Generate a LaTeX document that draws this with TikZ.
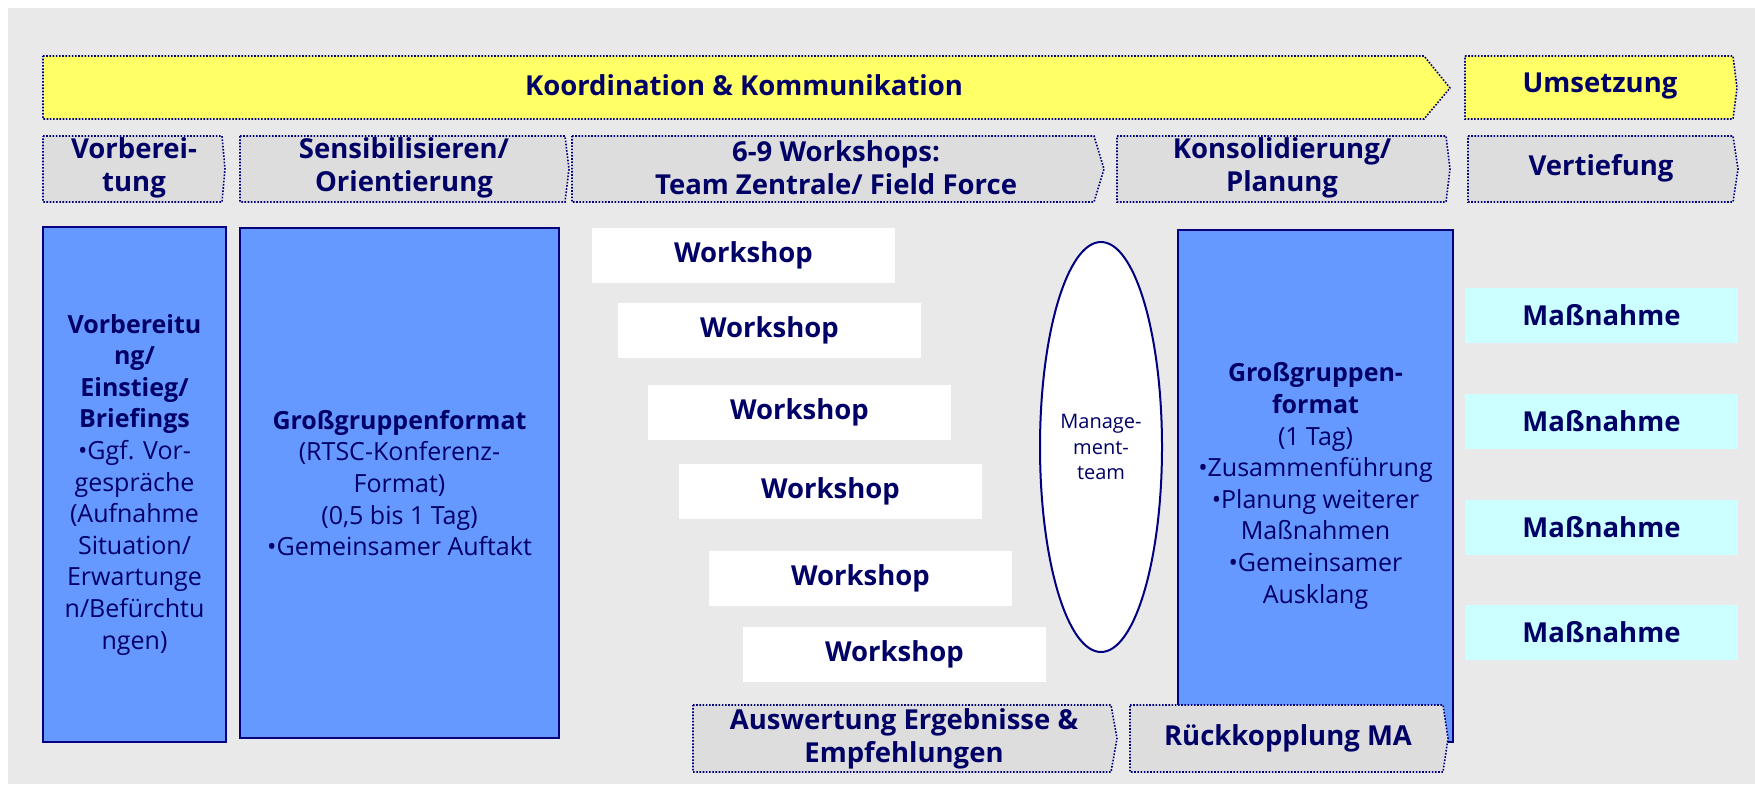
\documentclass[tikz,border=0pt]{standalone}
\usepackage{fontspec}
\setmainfont{Open Sans}
\usetikzlibrary{shapes.geometric}
\definecolor{bggray}{HTML}{E9E9E9}
\definecolor{chevgray}{HTML}{DDDDDD}
\definecolor{yel}{HTML}{FFFF66}
\definecolor{boxblue}{HTML}{6699FF}
\definecolor{lcyan}{HTML}{CCFFFF}
\definecolor{navyline}{HTML}{000080}
\definecolor{txt}{HTML}{000066}
\begin{document}
\begin{tikzpicture}[x=1pt,y=-1pt,
  chev/.style={fill=chevgray, draw=navyline, line width=1.6pt, dash pattern=on 1.6pt off 1.6pt},
  ychev/.style={chev, fill=yel},
  ttl/.style={text=txt, font=\fontsize{27.5}{33}\selectfont\bfseries, align=center, inner sep=0pt},
  bluebox/.style={fill=boxblue, draw=navyline, line width=2pt, text=txt,
     font=\fontsize{25}{31.6}\selectfont, align=center, inner sep=0pt},
  wsbox/.style={fill=white, minimum width=303pt, minimum height=55pt, inner sep=0pt,
     text=txt, font=\fontsize{27.5}{33}\selectfont\bfseries},
  massbox/.style={fill=lcyan, minimum width=273pt, minimum height=55pt, inner sep=0pt,
     text=txt, font=\fontsize{27.5}{33}\selectfont\bfseries},
  mgmt/.style={ellipse, fill=white, draw=navyline, line width=2pt, minimum width=122pt,
     minimum height=410pt, inner sep=0pt, text=txt, align=center,
     font=\fontsize{20}{25.6}\selectfont}
]
\useasboundingbox (0,0) rectangle (1755,784);
\fill[white] (0,0) rectangle (1755,784);
\fill[bggray] (8,8) rectangle (1755,784);

% top row
\path[ychev] (43,56) -- (1424,56) -- (1450,88) -- (1424,119) -- (43,119) -- cycle;
\node[ttl] (koord) at (744,85.5) {Koordination \& Kommunikation};
\path[ychev] (1465,56) -- (1733,56) -- (1737,88) -- (1733,119) -- (1465,119) -- cycle;
\node[ttl] (ums) at (1600,85.5) {Umsetzung};

% second row
\path[chev] (43,136) -- (222,136) -- (225,169) -- (222,202) -- (43,202) -- cycle;
\node[ttl] (vorb) at (134,168) {Vorberei-\\tung};
\path[chev] (240,136) -- (565,136) -- (569,169) -- (565,202) -- (240,202) -- cycle;
\node[ttl] (sens) at (404,168) {Sensibilisieren/\\Orientierung};
\path[chev] (572,136) -- (1094,136) -- (1104,169) -- (1094,202) -- (572,202) -- cycle;
\node[ttl] (wsh) at (836,168) {6-9 Workshops:\\Team Zentrale/ Field Force};
\path[chev] (1117,136) -- (1446,136) -- (1450,169) -- (1446,202) -- (1117,202) -- cycle;
\node[ttl] (kons) at (1282,168) {Konsolidierung/\\Planung};
\path[chev] (1468,136) -- (1733,136) -- (1738,169) -- (1733,202) -- (1468,202) -- cycle;
\node[ttl] (vert) at (1601,168) {Vertiefung};

% blue boxes
\node[bluebox, minimum width=183pt, minimum height=515pt] (prep) at (134.5,484.5)
  {\textbf{Vorbereitu}\\\textbf{ng/}\\\textbf{Einstieg/}\\\textbf{Briefings}\\•Ggf. Vor-\\gespräche\\(Aufnahme\\Situation/\\Erwartunge\\n/Befürchtu\\ngen)};
\node[bluebox, minimum width=319pt, minimum height=510pt] (gg1) at (399.5,483)
  {\textbf{Großgruppenformat}\\(RTSC-Konferenz-\\Format)\\(0,5 bis 1 Tag)\\•Gemeinsamer Auftakt};
\node[bluebox, minimum width=275pt, minimum height=512pt] (gg2) at (1315.5,486)
  {\textbf{Großgruppen-}\\\textbf{format}\\(1 Tag)\\•Zusammenführung\\•Planung weiterer\\Maßnahmen\\•Gemeinsamer\\Ausklang};

% workshops
\node[wsbox] (w1) at (743.5,255.5) {Workshop};
\node[wsbox] (w2) at (769.5,330.5) {Workshop};
\node[wsbox] (w3) at (799.5,412.5) {Workshop};
\node[wsbox] (w4) at (830.5,491.5) {Workshop};
\node[wsbox] (w5) at (860.5,578.5) {Workshop};
\node[wsbox] (w6) at (894.5,654.5) {Workshop};

% management team
\node[mgmt] (mt) at (1101,447) {Manage-\\ment-\\team};

% Massnahmen
\node[massbox] (m1) at (1601.5,315.5) {Maßnahme};
\node[massbox] (m2) at (1601.5,421.5) {Maßnahme};
\node[massbox] (m3) at (1601.5,527.5) {Maßnahme};
\node[massbox] (m4) at (1601.5,632.5) {Maßnahme};

% bottom row
\path[chev] (693,705) -- (1111,705) -- (1117,738.5) -- (1111,772) -- (693,772) -- cycle;
\node[ttl] (ausw) at (904,738.5) {Auswertung Ergebnisse \&\\Empfehlungen};
\path[chev] (1130,705) -- (1443,705) -- (1448,738.5) -- (1443,772) -- (1130,772) -- cycle;
\node[ttl] (rueck) at (1288,738.5) {Rückkopplung MA};
\end{tikzpicture}
\end{document}
